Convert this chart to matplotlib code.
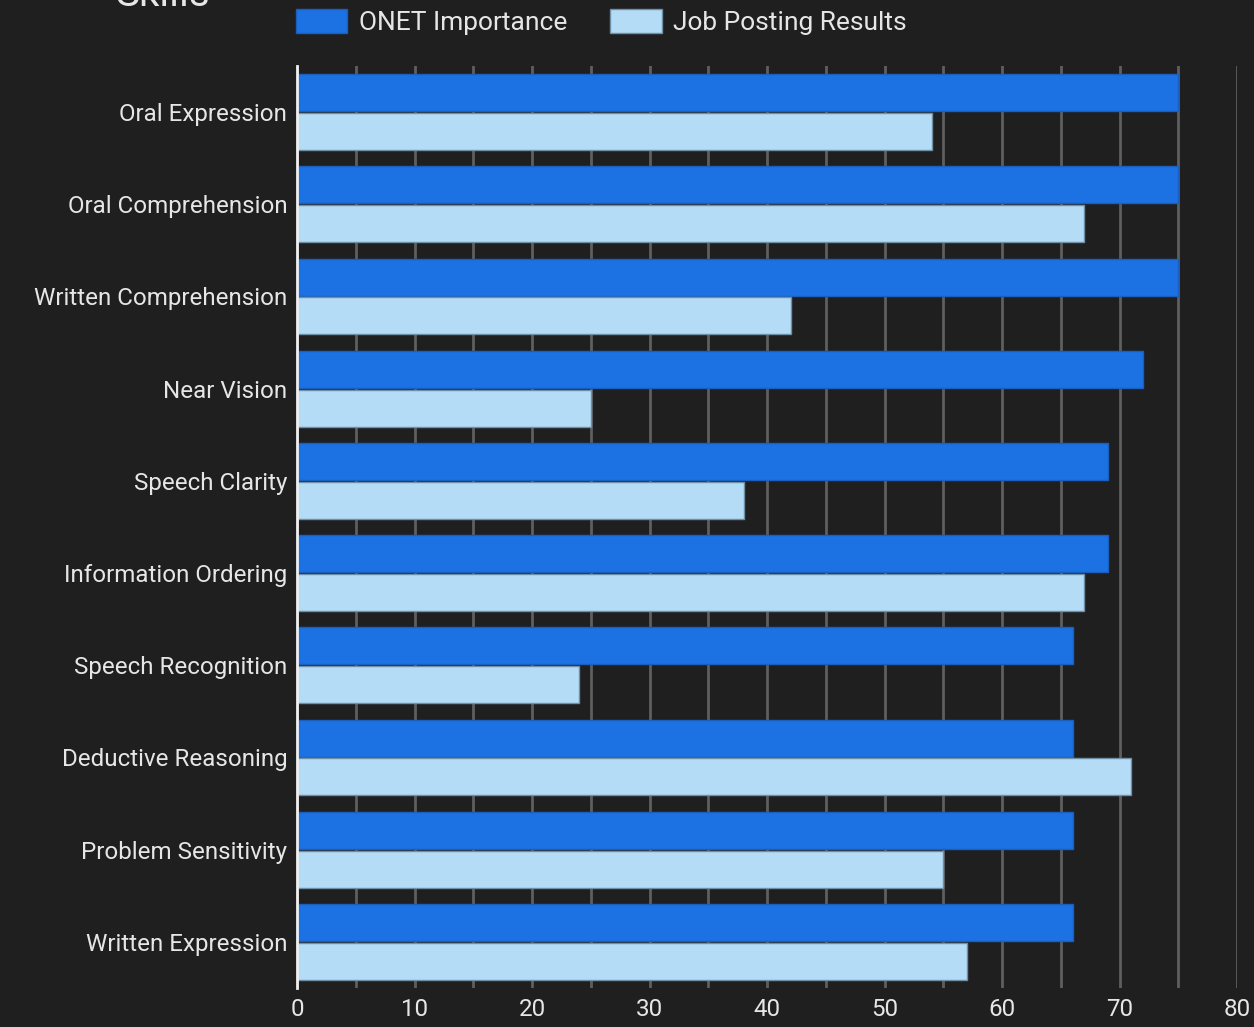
import numpy as np
import matplotlib.pyplot as plt
from matplotlib.patches import Patch

skills = ["Oral Expression", "Oral Comprehension", "Written Comprehension",
          "Near Vision", "Speech Clarity", "Information Ordering",
          "Speech Recognition", "Deductive Reasoning", "Problem Sensitivity",
          "Written Expression"]
onet_importance = [75, 75, 75, 72, 69, 69, 66, 66, 66, 66]
job_posting = [54, 67, 42, 25, 38, 67, 24, 71, 55, 57]
x_ticks = [0, 10, 20, 30, 40, 50, 60, 70, 80]

BG = "#1f1f1f"
TXT = "#e6e6e6"
DARK_BLUE = "#1c71e3"
LIGHT_BLUE = "#b4dcf6"

plt.rcParams["font.family"] = ["Roboto", "DejaVu Sans"]

fig = plt.figure(figsize=(12.54, 10.27), dpi=100, facecolor=BG)
W, H = 1254, 1027
ax = fig.add_axes([297 / W, 1 - 988 / H, (1237 - 297) / W, (988 - 66) / H])
ax.set_facecolor(BG)

y = np.arange(len(skills))
h = 0.40
ax.barh(y - 0.21, onet_importance, height=h, color=DARK_BLUE,
        edgecolor="#1a5fbf", linewidth=1, zorder=3, label="ONET Importance")
ax.barh(y + 0.21, job_posting, height=h, color=LIGHT_BLUE,
        edgecolor="#6f8fa5", linewidth=1, zorder=3, label="Job Posting Results")

ax.set_xlim(0, 80)
ax.set_ylim(len(skills) - 0.5, -0.5)
ax.set_yticks(y)
ax.set_yticklabels(skills, fontsize=17.4, color=TXT)
ax.set_xticks(x_ticks)
ax.set_xticklabels([str(t) for t in x_ticks], fontsize=17.4, color=TXT)
ax.set_xticks(np.arange(0, 81, 5), minor=True)
ax.grid(axis="x", which="both", color="#5e5e5e", linewidth=2, zorder=0)
ax.tick_params(axis="both", which="both", length=0)
ax.tick_params(axis="y", pad=7)
ax.tick_params(axis="x", pad=7)

for side in ["top", "right", "bottom"]:
    ax.spines[side].set_visible(False)
ax.spines["left"].set_color("#f0f0f0")
ax.spines["left"].set_linewidth(2)
ax.spines["left"].set_zorder(4)

handles = [Patch(facecolor=DARK_BLUE, edgecolor="#1a5fbf"),
           Patch(facecolor=LIGHT_BLUE, edgecolor="#6f8fa5")]
fig.legend(handles, ["ONET Importance", "Job Posting Results"],
           loc="center left", bbox_to_anchor=(296 / W, 1 - 22 / H),
           ncol=2, frameon=False, fontsize=19, labelcolor=TXT,
           handlelength=1.95, handleheight=1.0, handletextpad=0.42,
           columnspacing=1.65, borderaxespad=0, borderpad=0)

fig.text(115 / W, 1 - 6 / H, "Skills", fontsize=29, color=TXT,
         ha="left", va="baseline")

fig.savefig("out.png", dpi=100, facecolor=BG)
